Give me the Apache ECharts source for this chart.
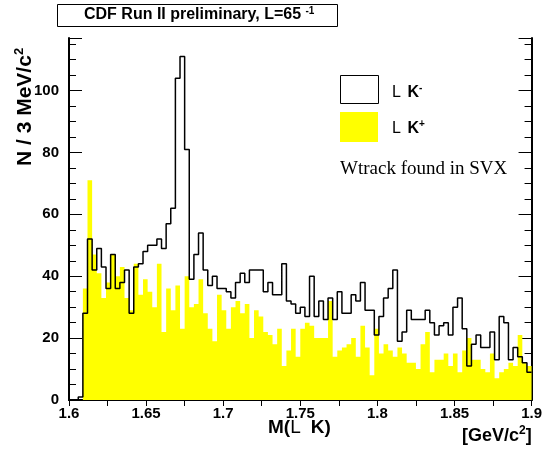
<!DOCTYPE html>
<html><head><meta charset="utf-8">
<script src="https://cdn.jsdelivr.net/npm/echarts@6/dist/echarts.min.js"></script>
<style>html,body{margin:0;padding:0;background:#fff}#c{width:545px;height:454px}</style>
</head><body><div id="c"></div>
<script>
// Histogram binning: 100 bins of 3 MeV/c^2 from 1.6 to 1.9 GeV/c^2
const binLow = 1.6;
const binWidth = 0.003;
const xTicks = [1.6, 1.65, 1.7, 1.75, 1.8, 1.85, 1.9];
const yTicks = [0, 20, 40, 60, 80, 100];

// Lambda K- (black outline)
const lambdaKminus = [
  0, 0, 1, 28, 52, 42, 49, 43, 36, 47,
  36, 38, 42, 28, 43, 44, 48, 50, 50, 52,
  49, 57, 62, 104, 111, 81, 39, 47, 54, 42,
  37, 40, 36, 36, 35, 33, 38, 41, 38, 42,
  42, 42, 35, 38, 34, 34, 44, 32, 31, 28,
  30, 27, 40, 27, 32, 26, 33, 26, 35, 28,
  28, 34, 32, 38, 29, 29, 21, 27, 33, 36,
  42, 19, 22, 29, 26, 26, 26, 29, 25, 21,
  24, 25, 21, 30, 33, 23, 11, 18, 21, 17,
  17, 22, 13, 27, 25, 13, 17, 14, 12, 9
];

// Lambda K+ (yellow filled)
const lambdaKplus = [
  0, 0, 0, 36, 71, 47, 41, 33, 38, 47,
  40, 43, 33, 29, 44, 34, 39, 35, 30, 44,
  22, 36, 29, 37, 23, 40, 30, 31, 39, 28,
  23, 19, 34, 29, 23, 30, 32, 28, 31, 20,
  29, 27, 22, 21, 18, 23, 11, 16, 23, 14,
  23, 25, 24, 20, 20, 20, 32, 14, 16, 17,
  18, 20, 14, 24, 17, 8, 23, 15, 18, 16,
  14, 17, 15, 12, 12, 10, 18, 22, 9, 13,
  13, 15, 11, 15, 9, 16, 20, 13, 13, 10,
  9, 15, 7, 9, 10, 12, 11, 21, 12, 11
];

const edges = [];
for (let i = 0; i <= lambdaKminus.length; i++) edges.push(+(binLow + i * binWidth).toFixed(4));
function stepData(vals) {
  const d = vals.map((v, i) => [edges[i], v]);
  d.push([edges[vals.length], vals[vals.length - 1]]);
  return d;
}

const SANS = "'Liberation Sans', Arial, Helvetica, sans-serif";
const SERIF = "'Liberation Serif', 'Times New Roman', serif";
const xMin = xTicks[0], xMax = xTicks[xTicks.length - 1];
const yMax = 117;

function isTick(v, arr) { return arr.some(t => Math.abs(t - v) < 1e-6); }

const chart = echarts.init(document.getElementById('c'), null, {renderer: 'canvas'});
const axisLine = {show: true, lineStyle: {color: '#000', width: 2}};
chart.setOption({
  animation: false,
  backgroundColor: '#fff',
  grid: {left: 69, right: 11, top: 38, bottom: 54, containLabel: false},
  xAxis: [{
    type: 'value', min: xMin, max: xMax, interval: 0.05, position: 'bottom',
    axisLine: axisLine,
    axisTick: {show: true, inside: true, length: 6, lineStyle: {color: '#000', width: 1}},
    minorTick: {show: true, splitNumber: 2, length: 6, lineStyle: {color: '#000', width: 1}},
    splitLine: {show: false},
    axisLabel: {show: true, margin: 6, color: '#000', fontFamily: SANS, fontWeight: 'bold', fontSize: 15,
      formatter: v => isTick(v, xTicks) ? String(+v.toFixed(3)) : ''}
  }, {
    type: 'value', min: xMin, max: xMax, interval: 0.05, position: 'top',
    axisLine: axisLine,
    axisTick: {show: true, inside: true, length: 6, lineStyle: {color: '#000', width: 1}},
    minorTick: {show: true, splitNumber: 2, length: 6, lineStyle: {color: '#000', width: 1}},
    splitLine: {show: false}, axisLabel: {show: false}
  }],
  yAxis: [{
    type: 'value', min: 0, max: yMax, interval: 20, position: 'left',
    axisLine: axisLine,
    axisTick: {show: true, inside: true, length: 13, lineStyle: {color: '#000', width: 1}},
    minorTick: {show: true, splitNumber: 4, length: 7, lineStyle: {color: '#000', width: 1}},
    splitLine: {show: false},
    axisLabel: {show: true, margin: 10, color: '#000', fontFamily: SANS, fontWeight: 'bold', fontSize: 15,
      formatter: v => isTick(v, yTicks) ? String(Math.round(v)) : ''}
  }, {
    type: 'value', min: 0, max: yMax, interval: 20, position: 'right',
    axisLine: axisLine,
    axisTick: {show: true, inside: true, length: 13, lineStyle: {color: '#000', width: 1}},
    minorTick: {show: true, splitNumber: 4, length: 7, lineStyle: {color: '#000', width: 1}},
    splitLine: {show: false}, axisLabel: {show: false}
  }],
  series: [{
    name: 'Λ K+', type: 'line', step: 'end', symbol: 'none', xAxisIndex: 0, yAxisIndex: 0,
    data: stepData(lambdaKplus),
    lineStyle: {width: 0, color: '#ffff00'},
    areaStyle: {color: '#ffff00', opacity: 1},
    z: 1
  }, {
    name: 'Λ K-', type: 'line', step: 'end', symbol: 'none', xAxisIndex: 0, yAxisIndex: 0,
    data: stepData(lambdaKminus),
    lineStyle: {width: 1.5, color: '#000'},
    z: 2
  }],
  graphic: [
    // title box
    {type: 'rect', left: 57, top: 4, shape: {width: 280, height: 22},
      style: {fill: '#fff', stroke: '#000', lineWidth: 1}, z: 10},
    {type: 'text', left: 84, top: 6, z: 11,
      style: {text: 'CDF Run II preliminary, L=65 {s|-1}', fill: '#000',
        font: "bold 16px " + SANS,
        rich: {s: {fontSize: 10, fontWeight: 'bold', fontFamily: SANS, verticalAlign: 'top', padding: [0, 0, 8, 0]}}}},
    // legend
    {type: 'rect', left: 340, top: 75, shape: {width: 38, height: 28},
      style: {fill: '#fff', stroke: '#000', lineWidth: 1}, z: 10},
    {type: 'rect', left: 340, top: 112, shape: {width: 38, height: 30},
      style: {fill: '#ffff00', stroke: null}, z: 10},
    {type: 'text', left: 392, top: 83, z: 11,
      style: {text: '{l|L}  {k|K}{s|-}', fill: '#000',
        rich: {l: {fontSize: 16, fontFamily: SANS, fontWeight: 'normal'},
               k: {fontSize: 16, fontFamily: SANS, fontWeight: 'bold'},
               s: {fontSize: 10, fontFamily: SANS, fontWeight: 'bold', verticalAlign: 'top', padding: [0, 0, 10, 0]}}}},
    {type: 'text', left: 392, top: 119, z: 11,
      style: {text: '{l|L}  {k|K}{s|+}', fill: '#000',
        rich: {l: {fontSize: 16, fontFamily: SANS, fontWeight: 'normal'},
               k: {fontSize: 16, fontFamily: SANS, fontWeight: 'bold'},
               s: {fontSize: 10, fontFamily: SANS, fontWeight: 'bold', verticalAlign: 'top', padding: [0, 0, 10, 0]}}}},
    {type: 'text', left: 340, top: 160, z: 11,
      style: {text: 'Wtrack found in SVX', fill: '#000', font: "19px " + SERIF}},
    // y-axis title (rotated)
    {type: 'text', x: 13, y: 166, rotation: Math.PI / 2, z: 11,
      style: {text: 'N / 3 MeV/c{s|2}', fill: '#000', font: "bold 21px " + SANS,
        textAlign: 'left', textVerticalAlign: 'top',
        rich: {s: {fontSize: 13, fontWeight: 'bold', fontFamily: SANS, verticalAlign: 'top', padding: [0, 0, 12, 0]}}}},
    // x-axis titles
    {type: 'text', left: 268, top: 418, z: 11,
      style: {text: '{b|M(}{l|L}   {b|K)}', fill: '#000',
        rich: {b: {fontSize: 19, fontFamily: SANS, fontWeight: 'bold'},
               l: {fontSize: 19, fontFamily: SANS, fontWeight: 'normal'}}}},
    {type: 'text', left: 462, top: 425, z: 11,
      style: {text: '[GeV/c{s|2}]', fill: '#000', font: "bold 18px " + SANS,
        rich: {s: {fontSize: 12, fontWeight: 'bold', fontFamily: SANS, verticalAlign: 'top', padding: [0, 0, 10, 0]}}}}
  ]
});
</script></body></html>
